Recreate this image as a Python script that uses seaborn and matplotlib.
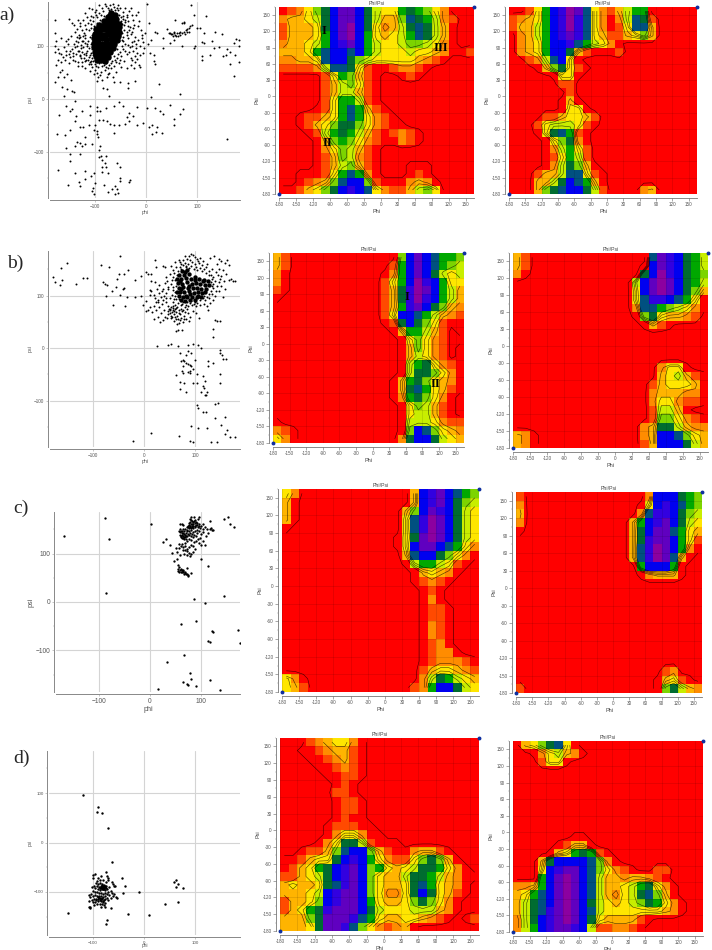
import numpy as np
import pandas as pd
import seaborn as sns
import matplotlib
matplotlib.use('Agg')
import matplotlib.pyplot as plt
from matplotlib.colors import ListedColormap

W, H = 712, 950
sns.set_style('white')
plt.rcParams['font.family'] = ['Liberation Sans', 'DejaVu Sans']

# ramacandran scatter points (phi, psi)
a_sparse = [(-155,-13),(-169,-30),(-144,-19),(-138,-4),(-149,-23),(-136,-33),(-138,-42),(-125,-22),(-128,-52),(-122,-53),(-112,-49),(-109,-14),(-109,-30),(-96,-23),(-96,-15),(-89,-23),(-77,-17),(-63,-14),(-53,-6),(-45,-14),(-18,-15),(2,-17),(18,-17),(28,-23),(34,-28),(46,-11),(72,-18),(67,-28),(54,-38),(55,-50),(21,-52),(12,-50),(5,-53),(-5,-45),(-18,-50),(-25,-32),(-34,-26),(-37,-34),(-34,-42),(-40,-47),(-53,-50),(-63,-49),(-70,-47),(-76,-42),(-83,-39),(-92,-40),(-99,-49),(-102,-58),(-96,-61),(-94,-72),(-96,-67),(-63,-64),(12,-66),(20,-62),(31,-64),(-174,-67),(-157,-69),(-149,-58),(-135,-82),(-128,-84),(-125,-89),(-118,-86),(-118,-72),(-105,-86),(-89,-89),(-156,-93),(-138,-89),(-148,-104),(-148,-118),(-128,-105),(-92,-96),(-92,-110),(-87,-108),(-77,-108),(-86,-115),(-80,-121),(-86,-129),(-77,-129),(-57,-122),(-50,-129),(-171,-135),(-138,-141),(-118,-137),(-102,-140),(-86,-139),(-75,-141),(-50,-149),(-50,-156),(-34,-157),(-31,-154),(-151,-162),(-131,-157),(-128,-165),(-118,-152),(-107,-146),(-99,-159),(-103,-168),(-105,-175),(-101,-179),(-82,-162),(-75,-176),(-66,-171),(-60,-164),(-57,-171),(-60,-179),(-55,-178),(158,-76),
    (25,28),(10,3),(66,9),(-35,31),(-36,21),(-21,35),(-50,32),(-63,33),(-72,6),(-83,21),(-76,20),(-96,35),(-86,37),(-160,5),(-144,16),(-140,14),(-154,19),(-164,23),(-177,33),(-171,41),(-160,42),(-147,37),(-167,52),(-164,55),(-154,48),
    (1,180),(88,178),(94,159),(117,158),(5,145),(18,128),(21,126),(41,132),(57,150),(73,147),(99,134),(106,134),(112,125),(109,109),(112,107),(129,111),(134,127),(148,123),(176,113),(181,112),(171,106),(181,100),(158,94),(164,90),(155,84),(150,81),(132,96),(142,98),(124,84),(109,81),(109,74),(171,44),(164,67),(181,70),(174,84),(96,100),(93,97),(70,101),(47,106),(33,96),(34,115),(54,112),(-5,87),(7,87),(15,84),(16,73),(18,67),(-11,60),(-14,64),(-21,81),(-27,74),
    (44,125),(47,126),(51,124),(54,126),(57,122),(60,125),(64,125),(67,122),(70,126),(73,128),(77,131),(80,133),(83,135),(86,139),(90,141),(70,144),(73,145),(48,123),(55,128),(62,120),(66,127),(75,124),(79,127),(84,128),(59,119),(52,120),
    (-175,110),(-177,100),(-172,95),(-178,90),(-170,88),(-166,85),(-172,75),(-176,65),(-165,70),(-158,75),(-160,98),(-155,92),(-150,86),(-148,80),(-145,95),(-142,88),(-140,105),(-135,100),(-130,92),(-128,84),(-152,105),(-165,115),(-178,125),(-177,150),(-150,152),(-145,145),(-140,140),(-134,132),(-128,145),(-122,110),(-138,72),(-125,70),(-118,72),(-112,66),(-105,60),(-100,55),(-95,50),(-90,45),(-80,55),(-72,50),(-65,42),(-132,62),(-108,72)]
a_halo = [(-118,163),(-112,172),(-105,170),(-100,165),(-115,155),(-122,150),(-110,150),(-118,140),(-125,130),(-130,122),(-120,125),(-112,130),(-118,115),(-125,110),(-110,118),(-115,105),(-122,98),(-114,92),(-120,85),(-112,80),(-108,88),(-105,78),(-110,70),(-98,168),(-92,178),(-85,172),(-88,160),(-95,155),(-80,180),(-75,172),(-70,178),(-62,175),(-55,178),(-50,172),(-45,165),(-52,160),(-44,152),(-38,160),(-35,148),(-42,140),(-32,136),(-38,128),(-30,124),(-26,135),(-22,118),(-35,115),(-28,108),(-20,105),(-15,112),(-12,100),(-8,115),(-5,108),(-40,105),(-32,98),(-25,92),(-18,88),(-45,95),(-38,85),(-30,78),(-22,70),(-48,82),(-42,72),(-55,85),(-60,75),(-52,68),(-66,72),(-72,65),(-62,62),(-78,60),(-85,62),(-92,68),(-98,62),(-88,52),(-75,48),(-46,125),(-50,135),(-46,112),(-52,110),(-56,95),(-48,148),(-54,168),(-108,158),(-104,148),(-108,135),(-106,122),(-108,105),(-106,95),(-103,72),(-100,66),(-68,58),(-58,70),(-50,90),(-44,118),(-42,130),(-40,150),(-60,168),(-68,170),(-74,162),(-82,158),(-90,150),(-96,145),(-78,68),(-84,70),(-115,100),(-128,118),(-135,118),(-116,75),(-126,78),(-132,108),(-10,130),(-15,138),(-2,125),(-25,150),(-20,160),(-16,165),(-30,172)]
a_halo_extra = [(-127,97),(-133,91),(-139,99),(-124,89),(-117,83),(-129,81),(-136,86),(-143,82),(-148,92),(-137,111),(-131,115),(-126,103),(-119,107),(-113,111),(-123,119),(-118,121),(-111,97),(-116,87),(-121,77),(-109,83),(-113,74),(-104,84),(-107,67),(-97,72),(-93,61),(-82,65),(-74,59),(-69,69),(-63,81),(-57,78),(-51,75),(-47,101),(-41,92),(-36,103),(-33,89),(-27,100),(-24,111),(-19,97),(-44,110),(-37,121),(-33,131),(-27,128),(-23,141),(-36,139),(-41,146),(-37,156),(-45,158),(-49,155),(-47,142),(-51,122),(-57,172),(-64,180),(-72,168),(-78,176),(-84,166),(-91,163),(-97,160),(-103,156),(-113,145),(-117,133),(-108,142),(-102,139),(-128,138),(-133,150),(-139,128),(-146,120),(-151,113),(-156,110),(-143,75),(-150,69),(-156,84),(-162,80),(-133,71),(-125,62),(-118,58),(-110,54),(-101,48),(-93,41),(-76,41),(-58,52),(-48,60),(-37,58),(-30,65),(-24,58),(-17,76),(-12,83),(-3,96),(4,104),(10,112),(-8,121),(-13,148),(-27,160),(-34,167),(-41,173)]
a_core = [(-68,163),(-60,160),(-74,155),(-66,154),(-58,152),(-82,148),(-74,147),(-66,146),(-58,145),(-52,143),(-92,140),(-84,139),(-76,140),(-68,138),(-60,138),(-53,136),(-98,132),(-90,131),(-82,132),(-74,130),(-66,131),(-58,129),(-52,128),(-100,123),(-92,124),(-84,122),(-76,123),(-68,122),(-60,121),(-54,120),(-101,115),(-93,114),(-85,115),(-77,113),(-69,114),(-61,113),(-56,112),(-102,106),(-94,107),(-86,105),(-78,106),(-70,105),(-62,104),(-102,98),(-94,97),(-86,98),(-78,97),(-70,96),(-64,97),(-100,90),(-92,89),(-84,90),(-76,88),(-70,89),(-98,82),(-90,81),(-82,82),(-74,80),(-96,75),(-88,74),(-80,73)]

b_sparse = [(-178,136),(-174,125),(-165,121),(-160,129),(-162,153),(-151,163),(-133,123),(-120,133),(-111,134),(-85,158),(-69,155),(-80,125),(-77,123),(-73,120),(-74,99),(-62,108),(-54,117),(-61,83),(-53,132),(-48,142),(-46,176),(-39,142),(-31,148),(-40,115),(-41,112),(-46,102),(-33,97),(-37,80),(-18,97),(-18,129),(-5,138),(-5,99),(-2,82),(3,145),(3,89),(3,70),(8,142),(14,141),(21,167),(24,154),(37,156),(42,154),
    (63,32),(67,35),(75,35),(135,37),(135,22),(139,54),(142,52),(148,52),(125,73),(25,3),(47,6),(52,8),(67,3),(86,5),(95,8),(106,6),(111,1),(86,-6),(83,-13),(93,-10),(99,-22),(70,-10),(73,-24),(76,-22),(78,-25),(82,-29),(86,-31),(90,-33),(93,-35),(95,-39),(91,-43),(86,-46),(90,-48),(76,-35),(75,-43),(76,-48),(62,-51),(70,-65),(78,-67),(70,-78),(83,-83),(95,-67),(103,-50),(103,-67),(116,-54),(119,-62),(116,-73),(117,-76),(112,-83),(124,-83),(119,-89),(122,-90),(125,-24),(135,-29),(125,-35),(148,-3),(148,-10),(153,-13),(154,-20),(160,-20),(148,-50),(149,-67),(104,-108),(106,-115),(116,-121),(122,-121),(139,-107),(145,-105),(139,-134),(158,-132),(150,-146),(163,-156),(159,-164),(169,-170),(178,-170),(92,-148),(105,-153),(124,-152),(69,-167),(90,-177),(96,-180),(132,-180),(142,-180),(14,-161),(-22,-178),
    (11,111),(11,102),(21,96),(19,102),(14,108),(26,112),(30,105),(33,98),(38,92),(27,88),(20,80),(12,78),(8,72),(16,68),(24,72),(30,78),(36,84),(44,88),(48,80),(40,72),(34,66),(28,60),(20,55),(42,60),(50,74),(46,58),(38,54),(32,50),(56,88),(60,82),(50,96),(44,104),(38,112),(30,120),(22,125),(14,128),
    (48,70),(50,66),(52,62),(54,68),(56,72),(58,65),(60,60),(47,64),(51,72),(55,60),(62,68),(64,62),(66,56),(70,64),(72,58),(68,72),(74,70),(78,62),(82,56),(76,50),(68,48),(58,52),(64,46),(86,66),(90,60),(96,70),(102,66),(108,58),(49,75),(53,79),(57,76),(61,74),(65,78),(69,67),(73,75),(77,72),(81,68),(85,74),(53,57),(59,70),(63,55),(71,53),(79,56),(88,52)]
b_halo = [(92,180),(88,176),(96,178),(100,174),(84,170),(90,168),(104,170),(110,172),(68,168),(72,160),(80,162),(86,160),(94,164),(100,160),(108,162),(116,166),(124,160),(130,172),(138,176),(146,170),(150,166),(158,162),(162,168),(166,158),(142,160),(134,150),(146,150),(154,148),(160,142),(170,132),(174,128),(178,128),(166,130),(156,128),(148,132),(140,128),(150,118),(158,112),(146,108),(140,100),(154,98),(136,92),(130,86),(124,80),(118,84),(110,82),(102,80),(94,82),(86,80),(80,78),(72,82),(66,86),(58,94),(54,102),(48,112),(52,122),(46,128),(44,136),(50,142),(56,148),(62,154),(52,156),(60,164),(64,140),(60,130),(62,118),(60,106),(136,114),(136,122),(136,136),(128,146),(118,150),(110,152),(102,154),(92,156),(82,154),(72,150),(66,146),(132,140),(128,96),(120,92),(116,96),(76,88),(84,88),(92,90),(100,88),
    (71,155),(77,158),(83,157),(89,152),(97,150),(104,149),(113,147),(121,143),(127,139),(133,131),(131,125),(133,118),(131,109),(127,103),(123,98),(117,100),(109,91),(103,86),(97,84),(90,85),(83,83),(75,84),(69,93),(63,93),(61,100),(56,110),(56,117),(54,130),(57,136),(59,143),(70,164),(76,168),(81,175),(106,166),(113,158),(122,154),(141,145),(145,140),(151,137),(143,119),(147,125),(141,108),(134,103),(56,80),(62,77),(44,96),(40,100),(35,108),(47,116),(41,124),(28,92),(23,88)]
b_core = [(75,147),(84,149),(68,140),(78,139),(88,141),(64,132),(73,131),(82,133),(92,132),(100,136),(108,131),(118,129),(126,128),(66,124),(75,123),(84,125),(94,122),(102,124),(110,123),(120,121),(128,120),(68,115),(77,116),(86,114),(96,114),(104,115),(112,113),(122,112),(64,107),(70,107),(79,106),(88,108),(97,105),(106,106),(114,104),(120,106),(68,99),(76,98),(85,97),(94,98),(103,97),(112,97),(72,91),(81,90),(90,92),(100,92),(71,128),(89,119),(99,129),(115,127),(82,100),(91,103),(73,112),(106,100),(80,145)]

c_points = [(-168,137),(-88,174),(-80,130),(-86,18),(1,162),(144,172),(152,175),(156,161),(164,154),(144,12),(86,6),(108,-3),(61,-45),(89,-39),(122,-59),(124,-61),(172,-58),(114,-80),(117,-82),(176,-85),(66,-110),(33,-125),(78,-147),(80,-159),(117,-162),(65,-165),(73,-170),(74,-172),(89,-174),(16,-180),(136,-181),(114,75),(99,88),(32,130),(26,125),(39,118),(43,102),
    (80,176),(86,176),(95,176),(93,172),(88,170),(82,168),(78,172),(76,164),(80,162),(84,165),(87,163),(90,166),(92,160),(96,162),(100,158),(104,162),(82,158),(85,157),(78,158),(74,158),(72,154),(76,152),(80,153),(84,152),(88,154),(94,154),(98,152),(104,150),(108,156),(112,150),(118,168),(120,152),(122,148),(118,150),(124,148),(114,142),(110,136),(104,144),(100,140),(96,146),(92,142),(88,146),(84,144),(80,148),(76,146),(72,146),(68,150),(64,150),(60,146),(56,146),(58,150),(62,142),(58,138),(60,136),(64,136),(66,140),(70,142),(68,134),(62,132),(66,130),(72,136),(76,138),(80,136),(84,134),(90,136),(94,130),(98,132),(104,126),(108,118),(100,118),(96,122),(90,126),(86,124),(80,128),(76,130),(72,126),(68,122),(62,120),(56,120),(60,116),(64,114),(68,116),(72,110),(76,114),(80,118),(84,116),(88,110),(84,104),(80,100),(76,102),(72,106),(68,108),(64,108),(66,100),(72,98),(78,96),(62,162),(58,162),(64,160),(56,112),(50,112),(52,104),(58,98),(46,84),(52,88),
    (54,76),(56,72),(55,68),(58,66),(60,68),(62,66),(64,64),(60,62),(62,61),(65,62),(68,60),(70,58),(66,58),(72,57),(74,56),(75,53),(80,60),(72,70),(56,62),(54,64),(64,67),(68,63),
    (79,165),(83,161),(86,167),(81,170),(89,159),(85,162),(77,160),(91,163),(83,155),(79,156),(75,155),(87,157),(62,139),(65,143),(61,135),(64,133),(69,138),(67,146),(70,136),(59,144),(63,146),(66,135),(71,131),(74,141),(73,149),(78,143),(82,141),(86,139),(91,148),(95,158)]

d_points = [(-119,97),(-91,72),(-92,62),(-83,60),(-71,30),(-63,-40),(-75,-59),(-44,-71),(-37,-87),(-41,-102),(-9,-101),(-32,-145),(10,-146),(-73,-156),(-75,-165),(-149,-143),(62,-75),(59,-79),(66,-83),(62,-89),(76,-91),(41,-124),(67,-121),
    (-100,-65),(-95,-64),(-100,-71),(-90,-72),(-85,-68),(-72,-68),(-70,-71),(-62,-79),(-60,-83),(-58,-88),(-56,-88),(-70,-76),(-74,-80),(-80,-76),(-86,-76),(-92,-78),(-94,-82),(-90,-84),(-86,-82),(-82,-84),(-78,-86),(-84,-88),(-80,-88),(-76,-90),(-82,-90),(-78,-92),(-74,-88),(-84,-92),(-88,-90),(-92,-88),(-98,-88),(-102,-89),(-96,-92),(-90,-94),(-86,-96),(-80,-95),(-76,-96),(-72,-94),(-68,-90),(-64,-98),(-70,-100),(-62,-102),(-58,-104),(-60,-108),(-55,-110),(-52,-113),(-64,-112),(-68,-106),(-72,-104),(-76,-102),(-80,-104),(-84,-102),(-88,-102),(-92,-100),(-96,-100),(-100,-98),(-104,-104),(-108,-106),(-106,-110),(-100,-108),(-96,-106),(-92,-108),(-88,-108),(-84,-108),(-80,-110),(-76,-108),(-72,-112),(-70,-116),(-76,-114),(-82,-114),(-86,-112),(-90,-114),(-94,-114),(-98,-114),(-102,-116),(-108,-118),(-100,-120),(-96,-120),(-90,-118),(-84,-118),(-80,-120),(-76,-122),(-82,-125),(-78,-127),(-86,-124),(-92,-124),(-98,-126),(-106,-130),(-105,-132),(-108,-131),(-64,-132),(-84,-130),(-76,-130),
    (-81,-91),(-79,-89),(-83,-93),(-77,-87),(-85,-90),(-80,-93),(-83,-86),(-78,-94),(-87,-92),(-75,-92),(-89,-112),(-85,-115),(-91,-111),(-87,-116),(-83,-112),(-79,-116),(-93,-117),(-81,-119)]

# phi/psi density maps, one string per row from psi 165 down to psi -180
# . and - are both plain red, - sits inside the outermost contour
a_map_1 = ["-12468acca8544787642...","233458acca85336987521..","133348acda8423589853-..","133347acda7434579853-..","233457abca7544566542-..","333479aa9a7544454432--1","223349aa86544444321-...","11112599841--1221-.....",".....147631-..-1-......",".....135641-...........",".....135531-...........",".....147751-...........","....-1479731-..........","..-1134797421-.........","..-1346886421--........","...-15787531-121-......","....-3676421--21-......","....-246531-...........","....-136521-...........","....-135631-...---.....","..---147972-...-1-.....","..-12369aa61---232-....","--13468aba942113564...."]
a_map_2 = ["..147abdc94213577......","12347abdb942-25981.....","13357abdb942-14993.....",".2357abcb943113463.....",".2347aab97542-.........",".2347aa831---1.........","..1259a4-..............","...-36841-.............",".....-44-..............","......11...............",".......1...............","......-3-..............","......-44-.............","....1134431............","...1455541-............","...-48971-.............","....-4682-.............","....-25741.............","....-14751.............","....-25863-............","...13359941-...........","...3358a973-...........","...3689aa851....23....."]
b_map_1 = ["31.............6aca9776","31............17aca9765","2-...........-27aca8545","2-...........147adba744","1-...........138bdca753","-............138bdba753",".............137bca8632",".............14aa975321",".............-18a8641--","..............-377531.-","...............-46421..","...............-36421.-","...............-35421.-","...............-578421-","...............-588642-","..............-3786432-","..............-3897431-","..............-278642-.","...............-46531-.","...............-45531-.","-..............-5554211","21-............-6a96432","42-............28aa8543"]
b_map_2 = ["31..............9cba875","31.............-acba875","2-.............8adba876","..............5acdca875","..............4acdca863","..............49bba974-","..............29976542-","..............-6843321.","...............-31-....","."*23,"."*23,"."*23,"."*23,".................244-..",".................34531-","................134443-","................233322-","................244211-","................1553-..","................166421-","...............23885322","32-............23aa9643","32-............13aaa853"]
c_map_1 = ["42.............3abca976","3-.............3abca865","3-............36acba854","3-............49bdca854","-.............49bdca854",".............-48cdca854",".............-4acca9742","..............39aa8642-","..............-577541-.","...............-3432-..","...............-121-...","................-1-....","................-2-....","................-11-...","................-11-...","................-21-...","................-21-...","................-12-...","................-122-..","................-12221-","................1344321","42-.............2587543","431............127aa854"]
c_map_2 = ["1...............2aaa876","2..............-4aba976","3..............29bba865","2.............37abca854","-.............38acc9743","..............38bcca741","..............39bdca72-","..............39bdc93-.","...............7aaa7-..","...............-2333-..","."*23,"."*23,"."*23,"."*23,"."*23,"."*23,"."*23,"."*23,"."*23,"."*23,"..................12...",".................-341-.","1................-68532"]
d_map_1 = ["...123442-.............","..--12331-.............","...--1231-.............","....--121-.............",".....--11-.............","......-1-..............","......11-..............","......-11-.............","......-11-.............","......-1--.............",".....-111--............",".....-2442--...........","....-248851---.........","..-11369aa631--2331-...","--13448aba7421146863-..","-13478abca67434588742-.","113458abca64335887532--","3433489bca64334897432-.","33345abcca642248a8431-.","13346abcca7433468642-..","13478bccca8544455532-..","33368cccb9743344321-.-1","33348ccb9642123-......."]
d_map_2 = [".346894-...............","..-24532-..............","...144-................","."*23,"."*23,"."*23,"."*23,"."*23,"."*23,"."*23,"."*23,".......--..............",".....-133-.............","....-347871-...........","...38aaaa962-..........","...4abcca96421-..11....","...7acdca953323321-....","2237acdca9533457842-...","3479acdca9532458963-...","3589acdca85434568742-..","3589bcdca95444444432-..","258abcdca8433331-......","257abccba511221-......."]

level_keys = '.-123456789abcd'
level_colors = ['#ff0000','#ff0000','#ff4a00','#ff8c00','#ffb400','#ffe600','#c8ee00','#7cd400','#00a800','#006c30','#005080','#0000f0','#3200e0','#6000c0','#8c00a0']
contour_levels = [0.5, 3.5, 4.5, 5.5, 6.5]
angle_labels = [-180,-150,-120,-90,-60,-30,0,30,60,90,120,150]

cmap = ListedColormap(level_colors)
fig = plt.figure(figsize=(W/100, H/100), dpi=100)

def box(l, t, r, b):
    return [l/W, 1-b/H, (r-l)/W, (b-t)/H]

def draw_map(rows, l, t, r, b):
    for row in rows:
        if len(row) != 23:
            raise ValueError(f'bad row {len(row)}: {row}')
    mat = np.array([[level_keys.index(c) for c in row] for row in rows])
    ax = fig.add_axes(box(l, t, r, b))
    sns.heatmap(mat, cmap=cmap, vmin=-0.5, vmax=14.5, cbar=False, ax=ax, xticklabels=False, yticklabels=False)
    xx = np.arange(23)+0.5
    ax.contour(xx, xx, mat, levels=contour_levels, colors='k', linewidths=0.4, alpha=0.75)
    ax.set_xticks(np.arange(0, 24, 2))
    ax.set_xticklabels(angle_labels)
    ax.set_yticks(np.arange(23, 0, -2))
    ax.set_yticklabels(angle_labels, rotation=0)
    ax.set_xticks(np.arange(1, 24, 2), minor=True)
    ax.set_yticks(np.arange(0, 24, 2), minor=True)
    ax.tick_params(axis='both', which='major', labelsize=3.3, labelcolor='#555555', length=2, width=0.4, color='#666666', pad=1, bottom=True, left=True)
    ax.tick_params(axis='both', which='minor', length=1, width=0.3, color='#888888', bottom=True, left=True)
    ax.grid(True, which='major', color='k', alpha=0.14, lw=0.5)
    ax.set_axisbelow(False)
    for s in ['left', 'bottom']:
        ax.spines[s].set_visible(True)
        ax.spines[s].set_color('#777777')
        ax.spines[s].set_linewidth(0.6)
        ax.spines[s].set_position(('outward', 3))
    ax.set_xlabel('Phi', fontsize=4, color='#444444', labelpad=1)
    ax.set_ylabel('Psi', fontsize=4, color='#444444', labelpad=1.5)
    ax.set_title('Phi/Psi', fontsize=3.8, color='#444444', pad=1.5)
    ax.plot([0, 23], [23, 0], ls='none', marker='o', ms=1.8, color='#1030a0', clip_on=False)
    return ax

def draw_scatter(points, l, t, r, b, xlim, ylim, big=None, halo=None, fs=3.3, labelfs=3.8, ms=2.0, big_size=22, xpad=0.8):
    ax = fig.add_axes(box(l, t, r, b))
    if big is not None:
        sns.scatterplot(data=pd.DataFrame(big, columns=['phi', 'psi']), x='phi', y='psi', color='k', s=big_size, linewidth=0, ax=ax, legend=False)
    if halo is not None:
        sns.scatterplot(data=pd.DataFrame(halo, columns=['phi', 'psi']), x='phi', y='psi', color='k', s=ms, linewidth=0, ax=ax, legend=False)
    sns.scatterplot(data=pd.DataFrame(points, columns=['phi', 'psi']), x='phi', y='psi', color='k', s=ms, linewidth=0, ax=ax, legend=False)
    ax.set_xlim(*xlim)
    ax.set_ylim(*ylim)
    ax.set_xticks([-100, 0, 100])
    ax.set_yticks([-100, 0, 100])
    ax.set_xticks([-150, -50, 50, 150], minor=True)
    ax.set_yticks([-150, -50, 50, 150], minor=True)
    ax.tick_params(axis='both', which='major', labelsize=fs, labelcolor='#555555', length=1.5, width=0.4, color='#999999', pad=1, bottom=True, left=True)
    ax.tick_params(axis='both', which='minor', length=1, width=0.3, color='#999999', bottom=True, left=True)
    ax.grid(True, which='major', color='#d4d4d4', lw=0.8)
    ax.set_axisbelow(True)
    for s in ['top', 'right']:
        ax.spines[s].set_visible(False)
    for s in ['left', 'bottom']:
        ax.spines[s].set_color('#888888')
        ax.spines[s].set_linewidth(0.7)
        ax.spines[s].set_position(('outward', 1.5))
    ax.set_xlabel('phi', fontsize=labelfs, color='#555555', labelpad=xpad)
    ax.set_ylabel('psi', fontsize=labelfs, color='#555555', labelpad=1)
    return ax

draw_scatter(a_sparse, 50, 2, 240, 198, (-187, 183), (-187.5, 184), big=a_core, halo=a_halo+a_halo_extra)
draw_scatter(b_sparse, 50, 251, 240, 447, (-184, 188), (-188.6, 185), big=b_core, halo=b_halo, big_size=10)
draw_scatter(c_points, 56, 512, 240, 692, (-184, 176), (-186, 186), fs=4.8, labelfs=5.2, ms=2.8)
# d sits close to the bottom edge of the figure
draw_scatter(d_points, 49, 751, 240, 935, (-186, 188), (-187, 185), ms=3.0, fs=3.2, labelfs=3.4, xpad=-0.8)

draw_map(a_map_1, 279, 7, 474, 194)
draw_map(a_map_2, 509, 7, 697, 194)
draw_map(b_map_1, 273, 253, 464, 443)
draw_map(b_map_2, 513, 253, 708, 448)
draw_map(c_map_1, 282, 489, 479, 692)
draw_map(c_map_2, 516, 492, 702, 693)
draw_map(d_map_1, 280, 738, 479, 931)
draw_map(d_map_2, 513, 741, 703, 932)

def px_text(x, y, s, **kw):
    fig.text(x/W, 1-y/H, s, ha='center', va='center', family=['Liberation Serif', 'DejaVu Serif'], **kw)

px_text(7, 15, 'a)', fontsize=14)
px_text(15, 263, 'b)', fontsize=14)
px_text(21, 508, 'c)', fontsize=14)
px_text(22, 758, 'd)', fontsize=14)

for x, y, s in [(324, 31, 'I'), (327, 143, 'II'), (441, 48, 'III'), (407, 297, 'I'), (435, 384, 'II')]:
    px_text(x, y, s, fontsize=9, fontweight='bold', color='k')

fig.savefig('out.png', dpi=100)
